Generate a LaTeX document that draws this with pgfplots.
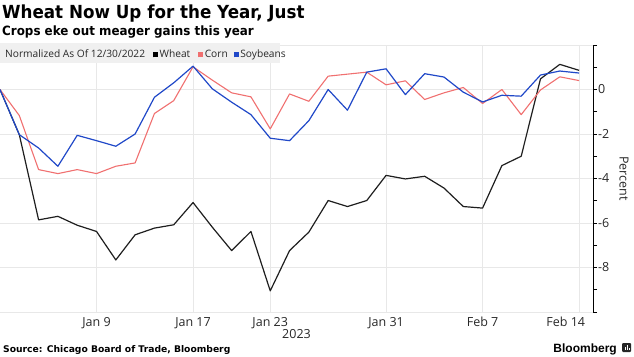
\documentclass[border=0pt]{standalone}
\usepackage{fontspec}
\setmainfont{Open Sans}
\newfontfamily\titlefont[FakeStretch=0.93]{DejaVu Sans}
\newfontfamily\srcfont{DejaVu Sans}
\newfontfamily\bbfont{Liberation Sans}
\usepackage{pgfplots}
\usepackage{pgfplotstable}
\pgfplotsset{compat=1.18}
\definecolor{corn}{RGB}{240,112,112}
\definecolor{soy}{RGB}{32,72,200}
\definecolor{wheat}{RGB}{30,30,30}
\definecolor{gridc}{RGB}{232,232,232}
\definecolor{band}{RGB}{240,240,240}
\definecolor{ticktext}{RGB}{40,40,40}

\pgfplotstableread{
i wheat corn soy
0 0 0 0
1 -2.03 -1.17 -2.03
2 -5.86 -3.60 -2.63
3 -5.70 -3.78 -3.45
4 -6.10 -3.60 -2.06
5 -6.38 -3.78 -2.30
6 -7.66 -3.45 -2.55
7 -6.53 -3.30 -2.00
8 -6.23 -1.08 -0.35
9 -6.08 -0.50 0.30
10 -5.08 1.02 1.05
11 -6.19 0.42 0.03
12 -7.24 -0.15 -0.57
13 -6.38 -0.33 -1.13
14 -9.05 -1.77 -2.19
15 -7.24 -0.20 -2.30
16 -6.41 -0.53 -1.40
17 -4.99 0.60 0.00
18 -5.26 0.69 -0.93
19 -4.99 0.78 0.78
20 -3.86 0.21 0.93
21 -4.02 0.39 -0.23
22 -3.90 -0.45 0.71
23 -4.43 -0.15 0.56
24 -5.26 0.09 -0.12
25 -5.33 -0.63 -0.56
26 -3.42 0.00 -0.26
27 -3.00 -1.13 -0.30
28 0.48 -0.02 0.65
29 1.13 0.57 0.83
30 0.86 0.40 0.74
}\data

\begin{document}
\begin{tikzpicture}
\useasboundingbox (0pt,0pt) rectangle (634pt,356pt);
\begin{axis}[
  at={(0pt,44pt)}, anchor=south west,
  scale only axis, width=593pt, height=267pt,
  xmin=0, xmax=30.72, ymin=-10, ymax=2,
  separate axis lines,
  axis y line*=right,
  axis x line*=bottom,
  x axis line style={draw=none},
  y axis line style={black, line width=0.8pt},
  xtick={5,10,14,20,25,30},
  xticklabels={Jan 9, Jan 17, Jan 23, Jan 31, Feb 7, {\hbox to 0pt{\hss Feb 14\kern-6pt}}},
  xtick style={draw=none},
  xticklabel style={font=\fontsize{12.5}{14}\selectfont, text=ticktext, inner sep=0pt, yshift=-1pt},
  ytick={-10,-8,...,2},
  yticklabels={{},-8,-6,-4,-2,0,{}},
  minor ytick={-9,-7,...,1},
  tick align=outside,
  ytick style={black, line width=0.8pt},
  major tick length=4pt, minor tick length=4pt,
  yticklabel style={font=\fontsize{12.5}{14}\selectfont, text=ticktext, inner sep=1pt},
  grid=major,
  grid style={gridc, line width=0.6pt},
  line join=round,
]
\addplot[wheat, line width=1.2pt] table[x=i, y=wheat] {\data};
\addplot[corn, line width=1.1pt] table[x=i, y=corn] {\data};
\addplot[soy, line width=1.2pt] table[x=i, y=soy] {\data};
\end{axis}
% legend band
\fill[band] (0pt,293.3pt) rectangle (280pt,313pt);
\node[anchor=base west, inner sep=0pt, font=\fontsize{10.2}{11}\selectfont, text=ticktext] at (5pt,298.7pt)
  {Normalized As Of 12/30/2022\hspace{8pt}{\color{black}\rule{5pt}{5pt}}\hspace{1.5pt}Wheat\hspace{8pt}{\color{corn}\rule{5pt}{5pt}}\hspace{1.5pt}Corn\hspace{6pt}{\color{soy}\rule{5pt}{5pt}}\hspace{1.5pt}Soybeans};
% titles
\node[anchor=base west, inner sep=0pt, font=\titlefont\bfseries\fontsize{18}{20}\selectfont] at (2pt,337.7pt) {Wheat Now Up for the Year, Just};
\node[anchor=base west, inner sep=0pt, font=\titlefont\bfseries\fontsize{12.8}{14}\selectfont] at (2pt,320.3pt) {Crops eke out meager gains this year};
% year and axis label
\node[font=\fontsize{12.5}{14}\selectfont, text=ticktext] at (296.5pt,22pt) {2023};
\node[rotate=-90, font=\fontsize{12.5}{14}\selectfont, text=ticktext] at (624pt,177.5pt) {Percent};
% source
\node[anchor=base west, inner sep=0pt, font=\srcfont\bfseries\fontsize{9.2}{11}\selectfont] at (3pt,3.3pt) {Source: Chicago Board of Trade, Bloomberg};
\node[anchor=base east, inner sep=0pt, font=\bbfont\bfseries\fontsize{12}{14}\selectfont] at (617pt,3.3pt) {Bloomberg};
\fill[black!85, rounded corners=1pt] (622pt,4pt) rectangle (631pt,13pt);
\fill[white] (624.5pt,6pt) rectangle (625.5pt,9pt);
\fill[white] (626.5pt,6pt) rectangle (627.5pt,11pt);
\fill[white] (628.5pt,6pt) rectangle (629.5pt,8pt);
\end{tikzpicture}
\end{document}
